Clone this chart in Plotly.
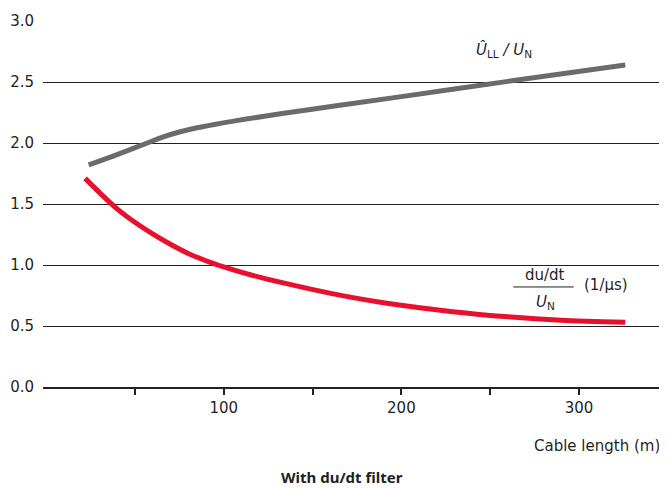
import plotly.graph_objects as go

# Data
cable_len_u = [24, 40, 57, 66, 75, 85, 94, 132, 200, 260, 326]
u_ratio = [1.82, 1.905, 2.00, 2.05, 2.09, 2.125, 2.15, 2.24, 2.38, 2.505, 2.64]

cable_len_d = [22, 30, 40, 50, 60, 70, 80, 90, 100, 115, 133, 161, 190, 229, 260, 290, 326]
dudt_ratio = [1.71, 1.595, 1.46, 1.35, 1.255, 1.17, 1.095, 1.035, 0.985, 0.92, 0.855, 0.765, 0.69, 0.617, 0.575, 0.547, 0.53]

x_tickvals = [50, 100, 150, 200, 250, 300]
x_ticktext = ["", "100", "", "200", "", "300"]
y_tickvals = [0, 0.5, 1.0, 1.5, 2.0, 2.5, 3.0]
y_ticktext = ["0.0", "0.5", "1.0", "1.5", "2.0", "2.5", "3.0"]

FONT = "DejaVu Sans"
TXT = "#1f1f1f"

fig = go.Figure()
fig.add_trace(go.Scatter(x=cable_len_u, y=u_ratio, mode="lines", line=dict(color="#6b6b6b", width=5, shape="spline", smoothing=0.8), showlegend=False))
fig.add_trace(go.Scatter(x=cable_len_d, y=dudt_ratio, mode="lines", line=dict(color="#e8112d", width=5, shape="spline", smoothing=0.8), showlegend=False))

fig.update_layout(
    width=659, height=480,
    margin=dict(l=35, r=0, t=12.5, b=101),
    paper_bgcolor="white", plot_bgcolor="white",
    font=dict(family=FONT, size=15, color=TXT),
    xaxis=dict(range=[-1.7, 349.5], tickvals=x_tickvals, ticktext=x_ticktext, automargin=False,
               ticks="outside", ticklen=6, tickwidth=2, tickcolor="#222",
               showgrid=False, zeroline=False, showline=True, linecolor="#222", linewidth=1.5,
               tickfont=dict(size=15, color=TXT)),
    yaxis=dict(range=[0, 3.0], tickvals=y_tickvals, ticktext=y_ticktext, automargin=False,
               showgrid=True, gridcolor="#222", gridwidth=1,
               zeroline=True, zerolinecolor="#222", zerolinewidth=1.5,
               ticks="", ticklabelstandoff=8, tickfont=dict(size=15, color=TXT)),
    annotations=[
        dict(xref="paper", yref="paper", x=1.0, y=-0.16, xanchor="right", yanchor="middle",
             xshift=-5, text="Cable length (m)", showarrow=False, font=dict(size=15, color=TXT)),
        dict(xref="paper", yref="paper", x=0.479, y=-0.245, xanchor="center", yanchor="middle",
             text="<b>With du/dt filter</b>", showarrow=False,
             font=dict(family="Noto Sans", size=15, color=TXT)),
        dict(x=258, y=2.76, xanchor="center", yanchor="middle",
             text="<i>Û</i><sub>LL</sub><i> / U</i><sub>N</sub>", showarrow=False,
             font=dict(size=15, color=TXT)),
        dict(x=281, y=0.92, xanchor="center", yanchor="middle",
             text="du/dt", showarrow=False, font=dict(size=15, color=TXT)),
        dict(x=281, y=0.69, xanchor="center", yanchor="middle",
             text="<i>U</i><sub>N</sub>", showarrow=False, font=dict(size=15, color=TXT)),
        dict(x=315, y=0.84, xanchor="center", yanchor="middle",
             text="(1/μs)", showarrow=False, font=dict(size=15, color=TXT)),
    ],
    shapes=[dict(type="line", x0=263, x1=297, y0=0.82, y1=0.82, line=dict(color=TXT, width=1))],
)

fig.write_html("out.html")
